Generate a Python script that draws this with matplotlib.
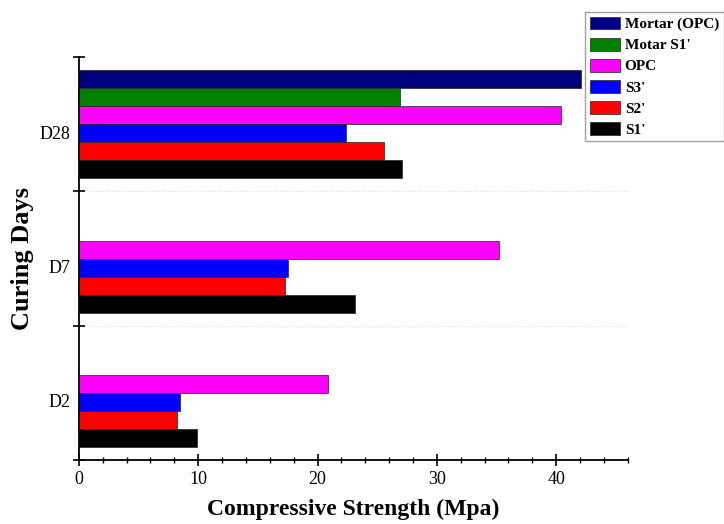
import numpy as np
import matplotlib.pyplot as plt
from matplotlib.ticker import MultipleLocator, FixedLocator

plt.rcParams['font.family'] = ['Liberation Serif', 'DejaVu Serif']

# Data
days = ['D2', 'D7', 'D28']
series = ["Mortar (OPC)", "Motar S1'", 'OPC', "S3'", "S2'", "S1'"]
colors = ['#000080', '#008000', '#ff00ff', '#0000ff', '#ff0000', '#000000']
mortar_opc = [np.nan, np.nan, 42.1]
motar_s1 = [np.nan, np.nan, 26.9]
opc = [20.9, 35.2, 40.4]
s3 = [8.5, 17.5, 22.4]
s2 = [8.2, 17.3, 25.6]
s1 = [9.9, 23.1, 27.1]
values = [mortar_opc, motar_s1, opc, s3, s2, s1]

fig = plt.figure(figsize=(7.24, 5.24), dpi=100)
ax = fig.add_axes([0.109, 0.122, 0.758, 0.769])

h = 0.134
pos = np.arange(len(days))
n = len(series)
for i, (name, vals, c) in enumerate(zip(series, values, colors)):
    slot = n - 1 - i  # bottom slot is S1'
    y = pos - n * h / 2 + h * (slot + 0.5)
    vals = np.array(vals)
    ok = ~np.isnan(vals)
    ax.barh(y[ok], vals[ok], height=h, color=c, edgecolor='#222222', linewidth=0.5,
            label=name)

ax.set_xlim(0, 46)
ax.set_ylim(-0.5, 2.5)

# group separators
for b in [0.5, 1.5]:
    ax.axhline(b, color='#dddddd', lw=0.8, ls=':', zorder=0)

ax.yaxis.set_major_locator(FixedLocator([-0.5, 0.5, 1.5, 2.5]))
ax.yaxis.set_major_formatter(plt.NullFormatter())
ax.yaxis.set_minor_locator(FixedLocator(pos - 0.06))
ax.set_yticklabels(days, minor=True)
ax.tick_params(axis='y', which='major', direction='inout', length=8, width=1.2)
ax.tick_params(axis='y', which='minor', length=0, labelsize=13, pad=6)

ax.xaxis.set_major_locator(MultipleLocator(10))
ax.xaxis.set_minor_locator(MultipleLocator(2))
ax.tick_params(axis='x', which='major', direction='inout', length=8, width=1.2,
               labelsize=13, pad=4)
ax.tick_params(axis='x', which='minor', direction='inout', length=5, width=1)

for s in ['top', 'right']:
    ax.spines[s].set_visible(False)
for s in ['left', 'bottom']:
    ax.spines[s].set_linewidth(1.3)

ax.set_xlabel('Compressive Strength (Mpa)', fontsize=17, fontweight='bold', labelpad=8)
ax.set_ylabel('Curing Days', fontsize=19, fontweight='bold', labelpad=4)

leg = fig.legend(loc='upper left', bbox_to_anchor=(0.808, 0.977), frameon=True,
                 fancybox=False, edgecolor='#888888', prop={'weight': 'bold', 'size': 11},
                 handlelength=2.0, handleheight=0.9, labelspacing=0.42,
                 handletextpad=0.3, borderpad=0.3, borderaxespad=0)
leg.get_frame().set_linewidth(1.0)

fig.savefig('out.png', dpi=100)
